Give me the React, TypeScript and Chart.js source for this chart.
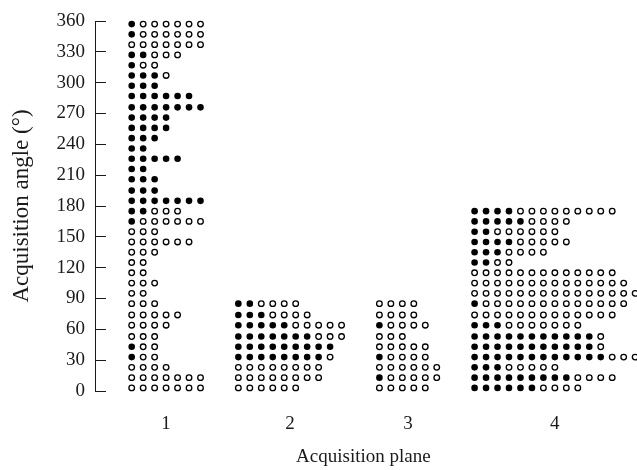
import React, { useEffect, useRef } from 'react';
import { Chart, registerables } from 'chart.js';

Chart.register(...registerables);

// Acquisition planes (x categories)
const planeLabels = ['1', '2', '3', '4'];

// Angle of each row of dots (degrees), bottom to top
const rowAngles = [3, 13, 23, 33, 43, 53, 64, 74, 85, 95, 105, 115, 125, 135, 145, 155, 165, 175,
  185, 195, 206, 216, 226, 236, 246, 256, 266, 276, 287, 297, 307, 317, 327, 337, 347, 357];

// Y ticks
const yTicks = [0, 30, 60, 90, 120, 150, 180, 210, 240, 270, 300, 330, 360];

// Number of filled / open dots per row (bottom to top) for each plane
const plane1Filled = [0, 0, 0, 1, 1, 0, 0, 0, 0, 0, 0, 0, 0, 0, 0, 0, 1, 2, 7, 3, 3, 2, 5, 2, 3, 4, 4, 7, 6, 3, 3, 1, 2, 0, 1, 1];
const plane1Open = [7, 7, 4, 2, 2, 3, 4, 5, 3, 2, 3, 2, 2, 3, 6, 3, 6, 3, 0, 0, 0, 0, 0, 0, 0, 0, 0, 0, 0, 0, 1, 2, 3, 7, 6, 6];

const plane2Filled = [0, 0, 0, 8, 9, 7, 5, 3, 2];
const plane2Open = [6, 8, 8, 1, 0, 3, 5, 4, 4];

const plane3Filled = [0, 1, 0, 1, 0, 0, 1, 0, 0];
const plane3Open = [5, 5, 6, 4, 5, 3, 4, 4, 4];

const plane4Filled = [6, 9, 3, 12, 11, 11, 3, 0, 1, 0, 0, 0, 2, 3, 4, 2, 5, 4];
const plane4Open = [4, 4, 5, 3, 1, 1, 7, 13, 13, 15, 14, 13, 2, 4, 5, 6, 4, 9];

const planesFilled = [plane1Filled, plane2Filled, plane3Filled, plane4Filled];
const planesOpen = [plane1Open, plane2Open, plane3Open, plane4Open];

// layout (in dot-column units)
const GROUP_GAP = 3.3;
const X_MIN = -3.2;
const X_MAX = 43.6;
const FONT = '"Liberation Serif", "Times New Roman", serif';
const INK = '#1a1a1a';

function buildLayout() {
  const filled: { x: number; y: number }[] = [];
  const open: { x: number; y: number }[] = [];
  const centers: number[] = [];
  let start = 0;
  planesFilled.forEach((fArr, g) => {
    const oArr = planesOpen[g];
    const widths = fArr.map((f, i) => f + oArr[i]);
    const maxW = Math.max(...widths);
    centers.push(start + (maxW - 1) / 2);
    fArr.forEach((f, r) => {
      const o = oArr[r];
      for (let j = 0; j < f + o; j++) {
        const pt = { x: start + j, y: rowAngles[r] };
        if (j < f) filled.push(pt);
        else open.push(pt);
      }
    });
    start = start + (maxW - 1) + GROUP_GAP;
  });
  return { filled, open, centers };
}

export default function App() {
  const ref = useRef<HTMLCanvasElement | null>(null);

  useEffect(() => {
    if (!ref.current) return;
    const { filled, open, centers } = buildLayout();
    const chart = new Chart(ref.current, {
      type: 'scatter',
      data: {
        datasets: [
          {
            label: 'filled',
            data: filled,
            pointRadius: 3.3,
            pointBackgroundColor: '#000',
            pointBorderColor: '#000',
            pointBorderWidth: 0,
            showLine: false,
            clip: false,
          } as any,
          {
            label: 'open',
            data: open,
            pointRadius: 2.8,
            pointBackgroundColor: '#fff',
            pointBorderColor: '#000',
            pointBorderWidth: 1.3,
            showLine: false,
            clip: false,
          } as any,
        ],
      },
      options: {
        animation: false,
        responsive: false,
        maintainAspectRatio: false,
        layout: { padding: { top: 21, left: 0, right: 0, bottom: 0 } },
        plugins: { legend: { display: false }, tooltip: { enabled: false } },
        scales: {
          x: {
            type: 'linear',
            min: X_MIN,
            max: X_MAX,
            afterBuildTicks: (scale: any) => {
              scale.ticks = centers.map((v) => ({ value: v }));
            },
            afterFit: (scale: any) => {
              scale.height = 79;
            },
            ticks: {
              autoSkip: false,
              maxRotation: 0,
              padding: 22,
              color: INK,
              font: { family: FONT, size: 19 },
              callback: (_v: any, i: number) => planeLabels[i],
            },
            grid: { display: false, drawTicks: false },
            border: { display: false },
            title: {
              display: true,
              text: 'Acquisition plane',
              color: INK,
              font: { family: FONT, size: 19 },
              padding: { top: 0, bottom: 2 },
            },
          },
          y: {
            type: 'linear',
            min: 0,
            max: 360,
            afterBuildTicks: (scale: any) => {
              scale.ticks = yTicks.map((v) => ({ value: v }));
            },
            afterFit: (scale: any) => {
              scale.width = 95;
              scale.paddingTop = 0;
              scale.paddingBottom = 0;
            },
            ticks: {
              padding: 21,
              color: INK,
              font: { family: FONT, size: 19 },
            },
            grid: {
              display: true,
              drawOnChartArea: false,
              drawTicks: true,
              tickLength: -11,
              color: INK,
              lineWidth: 1,
            },
            border: { display: true, color: INK, width: 1 },
            title: {
              display: true,
              text: 'Acquisition angle (°)',
              color: INK,
              font: { family: FONT, size: 23 },
              padding: { top: 8, bottom: 0 },
            },
          },
        },
      },
    } as any);
    return () => chart.destroy();
  }, []);

  return (
    <div style={{ position: 'fixed', left: 0, top: 0, width: 637, height: 470, background: '#fff' }}>
      <canvas ref={ref} width={637} height={470} style={{ display: 'block' }} />
    </div>
  );
}
